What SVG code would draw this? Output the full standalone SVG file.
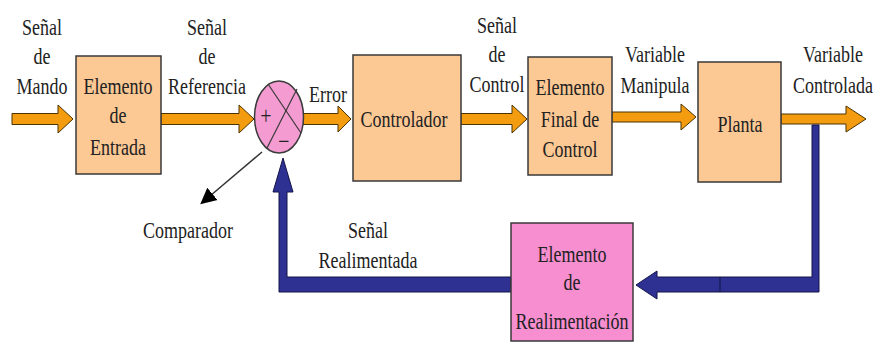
<svg xmlns="http://www.w3.org/2000/svg" width="875" height="345" viewBox="0 0 875 345">
  <style>
    .box { fill: #FCC894; stroke: #3a3a3a; stroke-width: 1.5; }
    .pink { fill: #F78ECF; stroke: #3a3a3a; stroke-width: 1.5; }
    .sum { fill: #F49BD2; stroke: #3a3a3a; stroke-width: 1.5; }
    .cross { stroke: #3a3a3a; stroke-width: 1.2; fill: none; }
    .fwd { fill: #F39C10; stroke: #4a3300; stroke-width: 1; }
    .back { fill: #2E3192; stroke: #14144a; stroke-width: 1; }
    text { font-family: 'Liberation Serif', 'DejaVu Serif', 'Noto Serif', serif; font-size: 18px; fill: #222; text-anchor: middle; }
  </style>
  <defs>
    <marker id="tri" viewBox="0 0 10 10" refX="2" refY="5" markerWidth="16" markerHeight="18" markerUnits="userSpaceOnUse" orient="auto">
      <path d="M0,0 L10,5 L0,10 z" fill="#000"/>
    </marker>
  </defs>
  <rect width="875" height="345" fill="#fff"/>

  <!-- connectors -->
  <g id="connectors">
    <polygon class="fwd" points="12,113.5 58,113.5 58,105 73,119 58,133 58,124.5 12,124.5"/>
    <polygon class="fwd" points="161,113.5 239,113.5 239,105 254,119 239,133 239,124.5 161,124.5"/>
    <polygon class="fwd" points="303,113.5 338,113.5 338,106 351,119 338,132 338,124.5 303,124.5"/>
    <polygon class="fwd" points="461,113.5 512,113.5 512,105 527,119 512,133 512,124.5 461,124.5"/>
    <polygon class="fwd" points="612,112 681,112 681,104 696,117 681,130 681,122 612,122"/>
    <polygon class="fwd" points="781,114 846,114 846,106 866,119 846,132 846,124 781,124"/>
    <!-- feedback path -->
    <polygon class="back" points="819,125 819,292 657,292 657,299 636,285 657,271 657,277 812,277 812,125"/>
    <line x1="720" y1="277" x2="720" y2="292" stroke="#14144a" stroke-width="1"/>
    <polygon class="back" points="511,277 287,277 287,192 293,192 283,158 273,192 279,192 279,292 511,292"/>
    <!-- comparator pointer -->
    <line x1="262" y1="152" x2="210" y2="196" stroke="#333" stroke-width="1.5" marker-end="url(#tri)"/>
  </g>

  <g id="senal-mando">
    <text transform="translate(42 35) scale(1 1.3)">Señal</text>
    <text transform="translate(42 64) scale(1 1.3)">de</text>
    <text transform="translate(42 94) scale(1 1.3)">Mando</text>
  </g>

  <g id="elemento-entrada">
    <rect class="box" x="76" y="56" width="85" height="118"/>
    <text transform="translate(118 94) scale(1 1.3)">Elemento</text>
    <text transform="translate(118 123) scale(1 1.3)">de</text>
    <text transform="translate(118 155) scale(1 1.3)">Entrada</text>
  </g>

  <g id="senal-referencia">
    <text transform="translate(207 35) scale(1 1.3)">Señal</text>
    <text transform="translate(207 64) scale(1 1.3)">de</text>
    <text transform="translate(207 94) scale(1 1.3)">Referencia</text>
  </g>

  <g id="comparador">
    <ellipse class="sum" cx="279" cy="117" rx="24.5" ry="36"/>
    <line class="cross" x1="268" y1="84" x2="301" y2="133"/>
    <line class="cross" x1="297" y1="89" x2="267" y2="148"/>
    <text transform="translate(266 124) scale(1 1.3)" style="font-size:20px">+</text>
    <text transform="translate(284 150) scale(1 1.3)" style="font-size:20px">−</text>
    <text transform="translate(188 238) scale(1 1.3)">Comparador</text>
  </g>

  <g id="error">
    <text transform="translate(328 102) scale(1 1.3)">Error</text>
  </g>

  <g id="controlador">
    <rect class="box" x="353" y="55" width="108" height="126"/>
    <text transform="translate(404 127) scale(1 1.3)">Controlador</text>
  </g>

  <g id="senal-control">
    <text transform="translate(497 33) scale(1 1.3)">Señal</text>
    <text transform="translate(497 62) scale(1 1.3)">de</text>
    <text transform="translate(497 92) scale(1 1.3)">Control</text>
  </g>

  <g id="elemento-final">
    <rect class="box" x="528" y="57" width="84" height="118"/>
    <text transform="translate(570 95) scale(1 1.3)">Elemento</text>
    <text transform="translate(570 127) scale(1 1.3)">Final de</text>
    <text transform="translate(570 157) scale(1 1.3)">Control</text>
  </g>

  <g id="variable-manipula">
    <text transform="translate(655 62) scale(1 1.3)">Variable</text>
    <text transform="translate(655 93) scale(1 1.3)">Manipula</text>
  </g>

  <g id="planta">
    <rect class="box" x="698" y="62" width="83" height="120"/>
    <text transform="translate(740 132) scale(1 1.3)">Planta</text>
  </g>

  <g id="variable-controlada">
    <text transform="translate(833 62) scale(1 1.3)">Variable</text>
    <text transform="translate(833 93) scale(1 1.3)">Controlada</text>
  </g>

  <g id="senal-realimentada">
    <text transform="translate(368 238) scale(1 1.3)">Señal</text>
    <text transform="translate(368 268) scale(1 1.3)">Realimentada</text>
  </g>

  <g id="elemento-realimentacion">
    <rect class="pink" x="511" y="223" width="122" height="118"/>
    <text transform="translate(572 262) scale(1 1.3)">Elemento</text>
    <text transform="translate(572 290) scale(1 1.3)">de</text>
    <text transform="translate(572 329) scale(1 1.3)">Realimentación</text>
  </g>
</svg>
